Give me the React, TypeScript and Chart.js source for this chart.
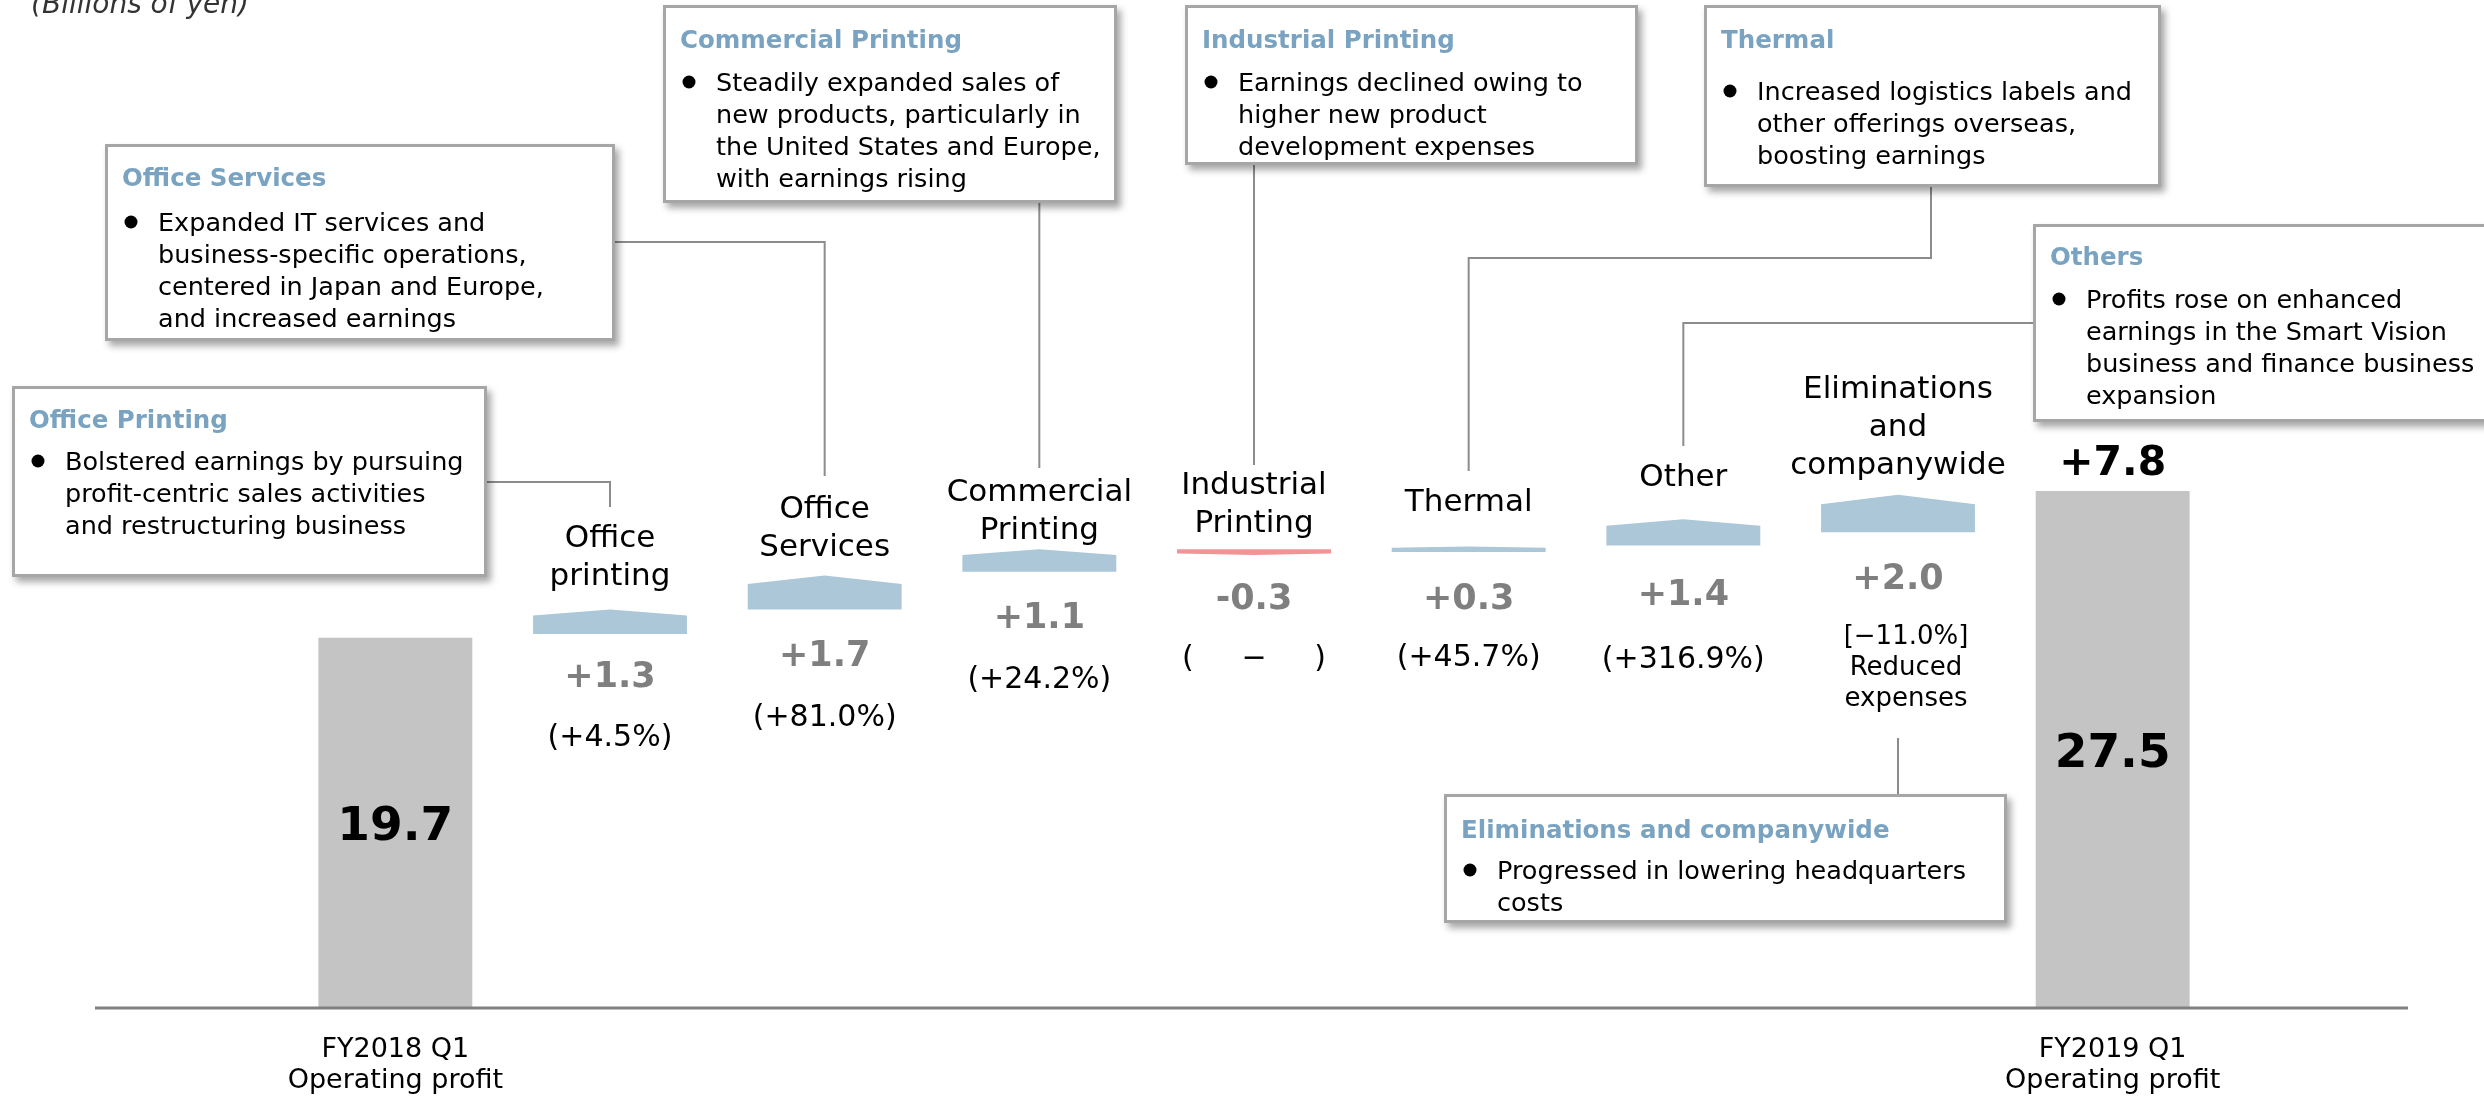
import React, { useEffect, useRef } from 'react';
import { Chart, registerables } from 'chart.js';

Chart.register(...registerables);

// ---------------- data ----------------
const categories = [
  'FY2018 Q1 Operating profit',
  'Office printing',
  'Office Services',
  'Commercial Printing',
  'Industrial Printing',
  'Thermal',
  'Other',
  'Eliminations and companywide',
  'FY2019 Q1 Operating profit',
];
const tickLabels = [
  ['FY2018 Q1', 'Operating profit'],
  '', '', '', '', '', '', '',
  ['FY2019 Q1', 'Operating profit'],
];
const categoryLabelLines = [
  [],
  ['Office', 'printing'],
  ['Office', 'Services'],
  ['Commercial', 'Printing'],
  ['Industrial', 'Printing'],
  ['Thermal'],
  ['Other'],
  ['Eliminations', 'and', 'companywide'],
  [],
];
const totalValues = [19.7, null, null, null, null, null, null, null, 27.5];
const changeFrom = [null, 19.9, 21.2, 23.2, 24.4, 24.25, 24.6, 25.3, null];
const changeTo = [null, 21.2, 23.0, 24.4, 24.1, 24.55, 26.0, 27.3, null];
const changeText = ['', '+1.3', '+1.7', '+1.1', '-0.3', '+0.3', '+1.4', '+2.0', ''];
const rateText = [
  [],
  ['(+4.5%)'],
  ['(+81.0%)'],
  ['(+24.2%)'],
  ['(     \u2212     )'],
  ['(+45.7%)'],
  ['(+316.9%)'],
  ['[\u221211.0%]', 'Reduced', 'expenses'],
  [],
];
const totalChangeText = '+7.8';
const unitText = '(Billions of yen)';

const noteTitles = [
  'Office Printing',
  'Office Services',
  'Commercial Printing',
  'Industrial Printing',
  'Thermal',
  'Others',
  'Eliminations and companywide',
];
const noteBodies = [
  ['Bolstered earnings by pursuing', 'profit-centric sales activities', 'and restructuring business'],
  ['Expanded IT services and', 'business-specific operations,', 'centered in Japan and Europe,', 'and increased earnings'],
  ['Steadily expanded sales of', 'new products, particularly in', 'the United States and Europe,', 'with earnings rising'],
  ['Earnings declined owing to', 'higher new product', 'development expenses'],
  ['Increased logistics labels and', 'other offerings overseas,', 'boosting earnings'],
  ['Profits rose on enhanced', 'earnings in the Smart Vision', 'business and finance business', 'expansion'],
  ['Progressed in lowering headquarters', 'costs'],
];
const noteCategory = [1, 2, 3, 4, 5, 6, 7];

// ---------------- layout / style ----------------
const W = 2484;
const H = 1096;
const FONT = "'DejaVu Sans', Verdana, sans-serif";
const GREY_BAR = '#C4C4C4';
const UP_COLOR = '#ABC7D8';
const DOWN_COLOR = '#F29496';
const TITLE_COLOR = '#79A3C1';
const PEAK_SHARE = 0.25;
const X_AXIS_HEIGHT = 88;
const labelGap = [0, 24, 20, 10, 17, 35, 33, 21, 0];
const valueGap = [0, 53, 57, 56, 54, 57, 59, 57, 0];
const rateGap = [0, 112, 117, 116, 112, 114, 122, 112, 0];
// [x, y, w, h]
const noteBoxes = [
  [12, 386, 475, 191],
  [105, 144, 510, 197],
  [663, 5, 454, 198],
  [1185, 5, 453, 160],
  [1704, 5, 457, 182],
  [2033, 224, 480, 198],
  [1444, 794, 563, 129],
];
// [title baseline offset, first line baseline offset]
const noteTextOffsets = [
  [42, 84],
  [42, 87],
  [43, 86],
  [43, 86],
  [43, 95],
  [41, 84],
  [44, 85],
];
// null x -> category centre
const noteLinks: Array<Array<[number | null, number]>> = [
  [[487, 482], [null, 482], [null, 507]],
  [[615, 242], [null, 242], [null, 476]],
  [[null, 203], [null, 468]],
  [[null, 165], [null, 465]],
  [[1931, 187], [1931, 258], [null, 258], [null, 471]],
  [[2033, 323], [null, 323], [null, 446]],
  [[null, 738], [null, 794]],
];

function drawChangeBars(chart: any) {
  const ctx = chart.ctx;
  const meta = chart.getDatasetMeta(1);
  meta.data.forEach((el: any, i: number) => {
    if (changeFrom[i] == null) return;
    const p = el.getProps(['x', 'y', 'base', 'width'], true);
    const half = p.width / 2;
    const top = Math.min(p.y, p.base);
    const bottom = Math.max(p.y, p.base);
    const h = bottom - top;
    const up = (changeTo[i] as number) >= (changeFrom[i] as number);
    ctx.save();
    ctx.fillStyle = up ? UP_COLOR : DOWN_COLOR;
    ctx.beginPath();
    if (up) {
      const sh = top + h * PEAK_SHARE;
      ctx.moveTo(p.x - half, bottom);
      ctx.lineTo(p.x + half, bottom);
      ctx.lineTo(p.x + half, sh);
      ctx.lineTo(p.x, top);
      ctx.lineTo(p.x - half, sh);
    } else {
      const sh = bottom - h * PEAK_SHARE;
      ctx.moveTo(p.x - half, top);
      ctx.lineTo(p.x + half, top);
      ctx.lineTo(p.x + half, sh);
      ctx.lineTo(p.x, bottom);
      ctx.lineTo(p.x - half, sh);
    }
    ctx.closePath();
    ctx.fill();
    ctx.restore();
  });
}

function drawLabels(chart: any) {
  const ctx = chart.ctx;
  const xs = chart.scales.x;
  const ys = chart.scales.y;
  ctx.save();
  ctx.textAlign = 'center';
  ctx.textBaseline = 'alphabetic';

  // change bars: category names, change values, rates
  categories.forEach((_, i) => {
    if (changeFrom[i] == null) return;
    const x = xs.getPixelForValue(i);
    const pa = ys.getPixelForValue(changeFrom[i] as number);
    const pb = ys.getPixelForValue(changeTo[i] as number);
    const top = Math.min(pa, pb);
    const bottom = Math.max(pa, pb);

    const lines = categoryLabelLines[i];
    ctx.font = `31px ${FONT}`;
    ctx.fillStyle = '#000';
    lines.forEach((ln, k) => {
      const yy = top - labelGap[i] - (lines.length - 1 - k) * 38;
      ctx.fillText(ln, x, yy);
    });

    ctx.font = `bold 35px ${FONT}`;
    ctx.fillStyle = '#7F7F7F';
    ctx.fillText(changeText[i], x, bottom + valueGap[i]);

    const r = rateText[i];
    ctx.fillStyle = '#000';
    if (r.length === 1) {
      ctx.font = `30px ${FONT}`;
      ctx.fillText(r[0], x, bottom + rateGap[i]);
    } else {
      ctx.font = `26px ${FONT}`;
      r.forEach((ln, k) => ctx.fillText(ln, x + 8, bottom + rateGap[i] + k * 31));
    }
  });

  // totals
  const totalsMeta = chart.getDatasetMeta(0);
  totalsMeta.data.forEach((el: any, i: number) => {
    if (totalValues[i] == null) return;
    const p = el.getProps(['x', 'y', 'base'], true);
    ctx.font = `bold 47px ${FONT}`;
    ctx.fillStyle = '#000';
    ctx.fillText((totalValues[i] as number).toFixed(1), p.x, (p.y + p.base) / 2 + 17);
    if (i === totalValues.length - 1) {
      ctx.font = `bold 41px ${FONT}`;
      ctx.fillText(totalChangeText, p.x, p.y - 16);
    }
  });

  // unit
  ctx.textAlign = 'left';
  ctx.font = `italic 28px ${FONT}`;
  ctx.fillStyle = '#333333';
  ctx.fillText(unitText, 31, 13);
  ctx.restore();
}

function drawNotes(chart: any) {
  const ctx = chart.ctx;
  const xs = chart.scales.x;
  ctx.save();
  // connectors
  ctx.strokeStyle = '#8C8C8C';
  ctx.lineWidth = 2;
  noteLinks.forEach((pts, n) => {
    const cx = xs.getPixelForValue(noteCategory[n]);
    ctx.beginPath();
    pts.forEach(([px, py], k) => {
      const xx = px == null ? cx : px;
      if (k === 0) ctx.moveTo(xx, py);
      else ctx.lineTo(xx, py);
    });
    ctx.stroke();
  });
  // boxes
  noteBoxes.forEach(([bx, by, bw, bh], n) => {
    ctx.save();
    ctx.shadowColor = 'rgba(0,0,0,0.35)';
    ctx.shadowBlur = 7;
    ctx.shadowOffsetX = 4;
    ctx.shadowOffsetY = 5;
    ctx.fillStyle = '#A6A6A6';
    ctx.fillRect(bx, by, bw, bh);
    ctx.restore();
    ctx.fillStyle = '#FFFFFF';
    ctx.fillRect(bx + 3, by + 3, bw - 6, bh - 6);

    const [tOff, lOff] = noteTextOffsets[n];
    ctx.textAlign = 'left';
    ctx.textBaseline = 'alphabetic';
    ctx.font = `bold 24.5px ${FONT}`;
    ctx.fillStyle = TITLE_COLOR;
    ctx.fillText(noteTitles[n], bx + 17, by + tOff);

    ctx.fillStyle = '#000';
    ctx.beginPath();
    ctx.arc(bx + 26, by + lOff - 9, 6.5, 0, Math.PI * 2);
    ctx.fill();
    ctx.font = `25.5px ${FONT}`;
    noteBodies[n].forEach((ln, k) => {
      ctx.fillText(ln, bx + 53, by + lOff + k * 32);
    });
  });
  ctx.restore();
}

const overlayPlugin = {
  id: 'waterfallOverlay',
  beforeDatasetDraw(chart: any, args: any) {
    if (args.index === 1) {
      drawChangeBars(chart);
      return false;
    }
    return undefined;
  },
  afterDatasetsDraw(chart: any) {
    const ctx = chart.ctx;
    const y0 = chart.scales.y.getPixelForValue(0);
    ctx.save();
    ctx.strokeStyle = '#808080';
    ctx.lineWidth = 3;
    ctx.beginPath();
    ctx.moveTo(95, y0);
    ctx.lineTo(2408, y0);
    ctx.stroke();
    ctx.restore();
  },
  afterDraw(chart: any) {
    drawLabels(chart);
    drawNotes(chart);
  },
};

export default function App() {
  const ref = useRef<HTMLCanvasElement | null>(null);
  useEffect(() => {
    if (!ref.current) return;
    const chart = new Chart(ref.current, {
      type: 'bar',
      data: {
        labels: tickLabels as any,
        datasets: [
          {
            label: 'Operating profit',
            data: totalValues.map((v) => (v == null ? null : [0, v])) as any,
            backgroundColor: GREY_BAR,
            borderWidth: 0,
            grouped: false,
            barPercentage: 0.717,
            categoryPercentage: 1,
          } as any,
          {
            label: 'Change',
            data: changeFrom.map((s, i) => (s == null ? null : [s, changeTo[i]])) as any,
            backgroundColor: changeFrom.map((s, i) =>
              s != null && (changeTo[i] as number) < s ? DOWN_COLOR : UP_COLOR
            ),
            borderWidth: 0,
            grouped: false,
            barPercentage: 0.717,
            categoryPercentage: 1,
          } as any,
        ],
      },
      options: {
        animation: false,
        responsive: false,
        devicePixelRatio: 1,
        layout: { padding: { left: 288, right: 264, top: 256, bottom: 0 } },
        plugins: { legend: { display: false }, tooltip: { enabled: false } },
        scales: {
          x: {
            grid: { display: false, drawTicks: false },
            border: { display: false },
            ticks: {
              font: { family: FONT, size: 27, lineHeight: 1.15 },
              color: '#000',
              padding: 26,
              maxRotation: 0,
              autoSkip: false,
            },
            afterFit: (scale: any) => {
              scale.height = X_AXIS_HEIGHT;
            },
          },
          y: { display: false, min: 0, max: 40 },
        },
      },
      plugins: [overlayPlugin],
    });
    return () => chart.destroy();
  }, []);

  return (
    <div style={{ position: 'absolute', left: 0, top: 0, width: W, height: H, background: '#fff' }}>
      <canvas ref={ref} width={W} height={H} style={{ width: W, height: H, display: 'block' }} />
    </div>
  );
}
